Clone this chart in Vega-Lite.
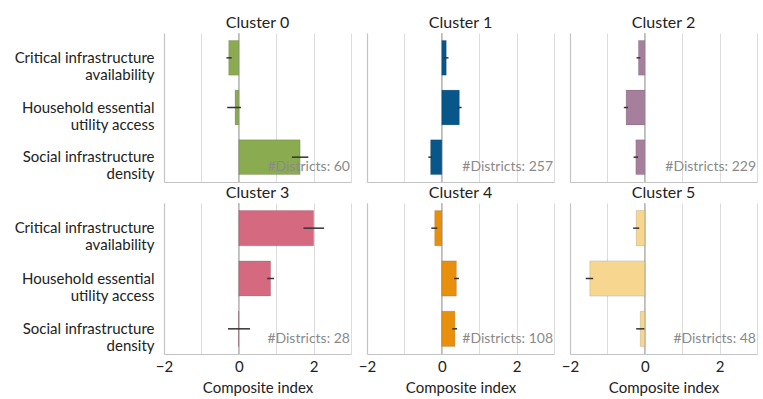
{
  "$schema": "https://vega.github.io/schema/vega-lite/v6.json",
  "padding": {"left": 14, "top": 14, "right": 4, "bottom": 4},
  "background": "white",
  "datasets": {
    "bars": [
      {"cluster": "Cluster 0", "dim": "Critical infrastructure availability", "value": -0.27, "lo": -0.33, "hi": -0.19},
      {"cluster": "Cluster 0", "dim": "Household essential utility access", "value": -0.1, "lo": -0.31, "hi": 0.06},
      {"cluster": "Cluster 0", "dim": "Social infrastructure density", "value": 1.64, "lo": 1.42, "hi": 1.86},
      {"cluster": "Cluster 1", "dim": "Critical infrastructure availability", "value": 0.12, "lo": 0.06, "hi": 0.18},
      {"cluster": "Cluster 1", "dim": "Household essential utility access", "value": 0.47, "lo": 0.43, "hi": 0.53},
      {"cluster": "Cluster 1", "dim": "Social infrastructure density", "value": -0.3, "lo": -0.36, "hi": -0.26},
      {"cluster": "Cluster 2", "dim": "Critical infrastructure availability", "value": -0.17, "lo": -0.22, "hi": -0.12},
      {"cluster": "Cluster 2", "dim": "Household essential utility access", "value": -0.5, "lo": -0.56, "hi": -0.45},
      {"cluster": "Cluster 2", "dim": "Social infrastructure density", "value": -0.24, "lo": -0.3, "hi": -0.18},
      {"cluster": "Cluster 3", "dim": "Critical infrastructure availability", "value": 2.0, "lo": 1.73, "hi": 2.28},
      {"cluster": "Cluster 3", "dim": "Household essential utility access", "value": 0.85, "lo": 0.76, "hi": 0.94},
      {"cluster": "Cluster 3", "dim": "Social infrastructure density", "value": -0.01, "lo": -0.29, "hi": 0.3},
      {"cluster": "Cluster 4", "dim": "Critical infrastructure availability", "value": -0.19, "lo": -0.28, "hi": -0.12},
      {"cluster": "Cluster 4", "dim": "Household essential utility access", "value": 0.39, "lo": 0.33, "hi": 0.46},
      {"cluster": "Cluster 4", "dim": "Social infrastructure density", "value": 0.35, "lo": 0.28, "hi": 0.41},
      {"cluster": "Cluster 5", "dim": "Critical infrastructure availability", "value": -0.23, "lo": -0.31, "hi": -0.15},
      {"cluster": "Cluster 5", "dim": "Household essential utility access", "value": -1.47, "lo": -1.58, "hi": -1.38},
      {"cluster": "Cluster 5", "dim": "Social infrastructure density", "value": -0.12, "lo": -0.23, "hi": -0.01}
    ],
    "counts": [
      {"cluster": "Cluster 0", "districts": 60},
      {"cluster": "Cluster 1", "districts": 257},
      {"cluster": "Cluster 2", "districts": 229},
      {"cluster": "Cluster 3", "districts": 28},
      {"cluster": "Cluster 4", "districts": 108},
      {"cluster": "Cluster 5", "districts": 48}
    ]
  },
  "spacing": 1,
  "vconcat": [
    {
      "spacing": 16,
      "bounds": "flush",
      "hconcat": [
        {
          "title": "Cluster 0", "width": 187, "height": 149,
          "layer": [
            {"data": {"name": "counts"}, "transform": [{"filter": "datum.cluster == 'Cluster 0'"}], "mark": {"type": "rule", "color": "#a0a0a0", "strokeWidth": 1},
             "encoding": {"x": {"datum": 0, "type": "quantitative", "scale": {"domain": [-2, 3], "nice": false}, "axis": {"title": null, "labels": false, "tickCount": 6, "values": [-2, -1, 0, 1, 2, 3]}}}},
            {"data": {"name": "bars"}, "transform": [{"filter": "datum.cluster == 'Cluster 0'"}], "mark": {"type": "bar", "stroke": "#000", "strokeOpacity": 0.12, "strokeWidth": 1},
             "encoding": {
               "y": {"field": "dim", "type": "nominal", "sort": ["Critical infrastructure availability", "Household essential utility access", "Social infrastructure density"], "scale": {"paddingInner": 0.3, "paddingOuter": 0.15}, "axis": {"title": null}},
               "x": {"field": "value", "type": "quantitative"},
               "color": {"field": "cluster", "type": "nominal", "legend": null, "scale": {"domain": ["Cluster 0", "Cluster 1", "Cluster 2", "Cluster 3", "Cluster 4", "Cluster 5"], "range": ["#8aab50", "#07578b", "#a57f9c", "#d4697f", "#e8900c", "#f7d790"]}}
             }},
            {"data": {"name": "bars"}, "transform": [{"filter": "datum.cluster == 'Cluster 0'"}], "mark": {"type": "rule", "color": "#333", "strokeWidth": 1.5},
             "encoding": {"y": {"field": "dim", "type": "nominal"}, "x": {"field": "lo", "type": "quantitative"}, "x2": {"field": "hi"}}},
            {"data": {"name": "counts"}, "transform": [{"filter": "datum.cluster == 'Cluster 0'"}, {"calculate": "'#Districts: ' + datum.districts", "as": "label"}], "mark": {"type": "text", "align": "right", "dx": -1, "dy": 10, "fontSize": 14, "color": "#8a8a8a"},
             "encoding": {"x": {"datum": 3, "type": "quantitative"}, "y": {"datum": "Social infrastructure density", "type": "nominal"}, "text": {"field": "label"}}}
          ]
        },
        {
          "title": "Cluster 1", "width": 187, "height": 149,
          "layer": [
            {"data": {"name": "counts"}, "transform": [{"filter": "datum.cluster == 'Cluster 1'"}], "mark": {"type": "rule", "color": "#a0a0a0", "strokeWidth": 1},
             "encoding": {"x": {"datum": 0, "type": "quantitative", "scale": {"domain": [-2, 3], "nice": false}, "axis": {"title": null, "labels": false, "tickCount": 6, "values": [-2, -1, 0, 1, 2, 3]}}}},
            {"data": {"name": "bars"}, "transform": [{"filter": "datum.cluster == 'Cluster 1'"}], "mark": {"type": "bar", "stroke": "#000", "strokeOpacity": 0.12, "strokeWidth": 1},
             "encoding": {
               "y": {"field": "dim", "type": "nominal", "sort": ["Critical infrastructure availability", "Household essential utility access", "Social infrastructure density"], "scale": {"paddingInner": 0.3, "paddingOuter": 0.15}, "axis": {"title": null, "labels": false}},
               "x": {"field": "value", "type": "quantitative"},
               "color": {"field": "cluster", "type": "nominal", "legend": null}
             }},
            {"data": {"name": "bars"}, "transform": [{"filter": "datum.cluster == 'Cluster 1'"}], "mark": {"type": "rule", "color": "#333", "strokeWidth": 1.5},
             "encoding": {"y": {"field": "dim", "type": "nominal"}, "x": {"field": "lo", "type": "quantitative"}, "x2": {"field": "hi"}}},
            {"data": {"name": "counts"}, "transform": [{"filter": "datum.cluster == 'Cluster 1'"}, {"calculate": "'#Districts: ' + datum.districts", "as": "label"}], "mark": {"type": "text", "align": "right", "dx": -1, "dy": 10, "fontSize": 14, "color": "#8a8a8a"},
             "encoding": {"x": {"datum": 3, "type": "quantitative"}, "y": {"datum": "Social infrastructure density", "type": "nominal"}, "text": {"field": "label"}}}
          ]
        },
        {
          "title": "Cluster 2", "width": 187, "height": 149,
          "layer": [
            {"data": {"name": "counts"}, "transform": [{"filter": "datum.cluster == 'Cluster 2'"}], "mark": {"type": "rule", "color": "#a0a0a0", "strokeWidth": 1},
             "encoding": {"x": {"datum": 0, "type": "quantitative", "scale": {"domain": [-2, 3], "nice": false}, "axis": {"title": null, "labels": false, "tickCount": 6, "values": [-2, -1, 0, 1, 2, 3]}}}},
            {"data": {"name": "bars"}, "transform": [{"filter": "datum.cluster == 'Cluster 2'"}], "mark": {"type": "bar", "stroke": "#000", "strokeOpacity": 0.12, "strokeWidth": 1},
             "encoding": {
               "y": {"field": "dim", "type": "nominal", "sort": ["Critical infrastructure availability", "Household essential utility access", "Social infrastructure density"], "scale": {"paddingInner": 0.3, "paddingOuter": 0.15}, "axis": {"title": null, "labels": false}},
               "x": {"field": "value", "type": "quantitative"},
               "color": {"field": "cluster", "type": "nominal", "legend": null}
             }},
            {"data": {"name": "bars"}, "transform": [{"filter": "datum.cluster == 'Cluster 2'"}], "mark": {"type": "rule", "color": "#333", "strokeWidth": 1.5},
             "encoding": {"y": {"field": "dim", "type": "nominal"}, "x": {"field": "lo", "type": "quantitative"}, "x2": {"field": "hi"}}},
            {"data": {"name": "counts"}, "transform": [{"filter": "datum.cluster == 'Cluster 2'"}, {"calculate": "'#Districts: ' + datum.districts", "as": "label"}], "mark": {"type": "text", "align": "right", "dx": -1, "dy": 10, "fontSize": 14, "color": "#8a8a8a"},
             "encoding": {"x": {"datum": 3, "type": "quantitative"}, "y": {"datum": "Social infrastructure density", "type": "nominal"}, "text": {"field": "label"}}}
          ]
        }
      ]
    },
    {
      "spacing": 16,
      "bounds": "flush",
      "hconcat": [
        {
          "title": "Cluster 3", "width": 187, "height": 151,
          "layer": [
            {"data": {"name": "counts"}, "transform": [{"filter": "datum.cluster == 'Cluster 3'"}], "mark": {"type": "rule", "color": "#a0a0a0", "strokeWidth": 1},
             "encoding": {"x": {"datum": 0, "type": "quantitative", "scale": {"domain": [-2, 3], "nice": false}, "axis": {"title": "Composite index", "tickCount": 6, "values": [-2, -1, 0, 1, 2, 3]}}}},
            {"data": {"name": "bars"}, "transform": [{"filter": "datum.cluster == 'Cluster 3'"}], "mark": {"type": "bar", "stroke": "#000", "strokeOpacity": 0.12, "strokeWidth": 1},
             "encoding": {
               "y": {"field": "dim", "type": "nominal", "sort": ["Critical infrastructure availability", "Household essential utility access", "Social infrastructure density"], "scale": {"paddingInner": 0.3, "paddingOuter": 0.15}, "axis": {"title": null}},
               "x": {"field": "value", "type": "quantitative"},
               "color": {"field": "cluster", "type": "nominal", "legend": null}
             }},
            {"data": {"name": "bars"}, "transform": [{"filter": "datum.cluster == 'Cluster 3'"}], "mark": {"type": "rule", "color": "#333", "strokeWidth": 1.5},
             "encoding": {"y": {"field": "dim", "type": "nominal"}, "x": {"field": "lo", "type": "quantitative"}, "x2": {"field": "hi"}}},
            {"data": {"name": "counts"}, "transform": [{"filter": "datum.cluster == 'Cluster 3'"}, {"calculate": "'#Districts: ' + datum.districts", "as": "label"}], "mark": {"type": "text", "align": "right", "dx": -1, "dy": 10, "fontSize": 14, "color": "#8a8a8a"},
             "encoding": {"x": {"datum": 3, "type": "quantitative"}, "y": {"datum": "Social infrastructure density", "type": "nominal"}, "text": {"field": "label"}}}
          ]
        },
        {
          "title": "Cluster 4", "width": 187, "height": 151,
          "layer": [
            {"data": {"name": "counts"}, "transform": [{"filter": "datum.cluster == 'Cluster 4'"}], "mark": {"type": "rule", "color": "#a0a0a0", "strokeWidth": 1},
             "encoding": {"x": {"datum": 0, "type": "quantitative", "scale": {"domain": [-2, 3], "nice": false}, "axis": {"title": "Composite index", "tickCount": 6, "values": [-2, -1, 0, 1, 2, 3]}}}},
            {"data": {"name": "bars"}, "transform": [{"filter": "datum.cluster == 'Cluster 4'"}], "mark": {"type": "bar", "stroke": "#000", "strokeOpacity": 0.12, "strokeWidth": 1},
             "encoding": {
               "y": {"field": "dim", "type": "nominal", "sort": ["Critical infrastructure availability", "Household essential utility access", "Social infrastructure density"], "scale": {"paddingInner": 0.3, "paddingOuter": 0.15}, "axis": {"title": null, "labels": false}},
               "x": {"field": "value", "type": "quantitative"},
               "color": {"field": "cluster", "type": "nominal", "legend": null}
             }},
            {"data": {"name": "bars"}, "transform": [{"filter": "datum.cluster == 'Cluster 4'"}], "mark": {"type": "rule", "color": "#333", "strokeWidth": 1.5},
             "encoding": {"y": {"field": "dim", "type": "nominal"}, "x": {"field": "lo", "type": "quantitative"}, "x2": {"field": "hi"}}},
            {"data": {"name": "counts"}, "transform": [{"filter": "datum.cluster == 'Cluster 4'"}, {"calculate": "'#Districts: ' + datum.districts", "as": "label"}], "mark": {"type": "text", "align": "right", "dx": -1, "dy": 10, "fontSize": 14, "color": "#8a8a8a"},
             "encoding": {"x": {"datum": 3, "type": "quantitative"}, "y": {"datum": "Social infrastructure density", "type": "nominal"}, "text": {"field": "label"}}}
          ]
        },
        {
          "title": "Cluster 5", "width": 187, "height": 151,
          "layer": [
            {"data": {"name": "counts"}, "transform": [{"filter": "datum.cluster == 'Cluster 5'"}], "mark": {"type": "rule", "color": "#a0a0a0", "strokeWidth": 1},
             "encoding": {"x": {"datum": 0, "type": "quantitative", "scale": {"domain": [-2, 3], "nice": false}, "axis": {"title": "Composite index", "tickCount": 6, "values": [-2, -1, 0, 1, 2, 3]}}}},
            {"data": {"name": "bars"}, "transform": [{"filter": "datum.cluster == 'Cluster 5'"}], "mark": {"type": "bar", "stroke": "#000", "strokeOpacity": 0.12, "strokeWidth": 1},
             "encoding": {
               "y": {"field": "dim", "type": "nominal", "sort": ["Critical infrastructure availability", "Household essential utility access", "Social infrastructure density"], "scale": {"paddingInner": 0.3, "paddingOuter": 0.15}, "axis": {"title": null, "labels": false}},
               "x": {"field": "value", "type": "quantitative"},
               "color": {"field": "cluster", "type": "nominal", "legend": null}
             }},
            {"data": {"name": "bars"}, "transform": [{"filter": "datum.cluster == 'Cluster 5'"}], "mark": {"type": "rule", "color": "#333", "strokeWidth": 1.5},
             "encoding": {"y": {"field": "dim", "type": "nominal"}, "x": {"field": "lo", "type": "quantitative"}, "x2": {"field": "hi"}}},
            {"data": {"name": "counts"}, "transform": [{"filter": "datum.cluster == 'Cluster 5'"}, {"calculate": "'#Districts: ' + datum.districts", "as": "label"}], "mark": {"type": "text", "align": "right", "dx": -1, "dy": 10, "fontSize": 14, "color": "#8a8a8a"},
             "encoding": {"x": {"datum": 3, "type": "quantitative"}, "y": {"datum": "Social infrastructure density", "type": "nominal"}, "text": {"field": "label"}}}
          ]
        }
      ]
    }
  ],
  "config": {
    "font": "Lato",
    "view": {"stroke": null},
    "title": {"fontSize": 16, "fontWeight": "normal", "color": "#222", "offset": 2, "font": "Lato"},
    "text": {"font": "Lato"},
    "axis": {"labelFont": "Lato", "titleFont": "Lato", "labelFontSize": 15, "titleFontSize": 15, "labelColor": "#222", "titleColor": "#222", "titleFontWeight": "normal", "ticks": false, "domainColor": "#c4c4c4", "domainWidth": 1.2},
    "axisX": {"grid": true, "tickCount": 6, "gridColor": "#dcdcdc", "gridWidth": 1, "gridOpacity": 1, "labelPadding": 5, "titlePadding": 6, "labelOverlap": false, "labelFlush": false, "labelOpacity": {"condition": {"test": "datum.value % 2 != 0", "value": 0}, "value": 1}},
    "axisY": {"grid": false, "labelPadding": 10, "labelLineHeight": 17, "labelExpr": "datum.label == 'Critical infrastructure availability' ? ['Critical infrastructure', 'availability'] : datum.label == 'Household essential utility access' ? ['Household essential', 'utility access'] : ['Social infrastructure', 'density']"}
  }
}
